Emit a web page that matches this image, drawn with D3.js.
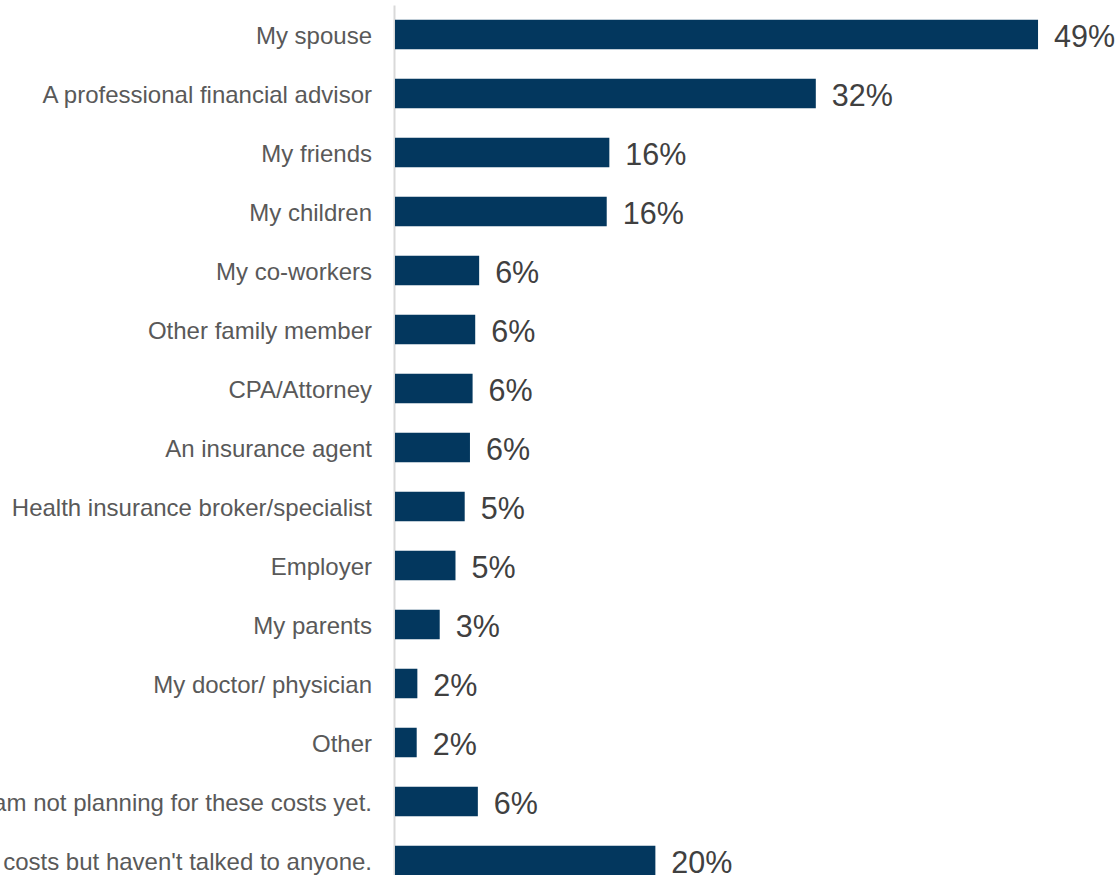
<!DOCTYPE html>
<html>
<head>
<meta charset="utf-8">
<script src="https://cdn.jsdelivr.net/npm/d3@7"></script>
<style>
  html, body { margin: 0; padding: 0; background: #ffffff; overflow: hidden; }
  svg { display: block; font-family: "Liberation Sans", Arial, sans-serif; }
</style>
</head>
<body>
<svg id="chart" width="1120" height="875"></svg>
<script>
// Who people talk to when planning for these costs (share of respondents)
const categories = [
  "My spouse",
  "A professional financial advisor",
  "My friends",
  "My children",
  "My co-workers",
  "Other family member",
  "CPA/Attorney",
  "An insurance agent",
  "Health insurance broker/specialist",
  "Employer",
  "My parents",
  "My doctor/ physician",
  "Other",
  "I am not planning for these costs yet.",
  "I am planning for these costs but haven't talked to anyone."
];
const shares = [0.489, 0.320, 0.163, 0.161, 0.064, 0.061, 0.059, 0.057, 0.053, 0.046, 0.034, 0.017, 0.0165, 0.063, 0.198];

const svg = d3.select("#chart");
const fmt = d3.format(".0%");

const x = d3.scaleLinear().domain([0, 0.5]).range([395, 1052.5]);
const y = d3.scaleBand()
  .domain(categories)
  .range([5, 890])
  .paddingInner(0.5)
  .paddingOuter(0.25);

// category axis: a thin vertical rule, no ticks
const yAxis = d3.axisLeft(y).tickSize(0).tickPadding(22);
const gAxis = svg.append("g")
  .attr("transform", `translate(${x(0) - 1},0)`)
  .call(yAxis);
gAxis.select(".domain").attr("stroke", "#d9d9d9").attr("stroke-width", 2);
gAxis.selectAll(".tick text")
  .attr("font-size", 24)
  .attr("fill", "#595959")
  .attr("dy", "0.38em")
  .attr("font-family", "Liberation Sans, Arial, sans-serif");

const rows = svg.append("g").selectAll("g")
  .data(categories.map((c, i) => ({ c, v: shares[i] })))
  .join("g");

rows.append("rect")
  .attr("x", x(0))
  .attr("y", d => y(d.c))
  .attr("width", d => x(d.v) - x(0))
  .attr("height", y.bandwidth())
  .attr("fill", "#03375e");

rows.append("text")
  .attr("x", d => x(d.v) + 16)
  .attr("y", d => y(d.c) + y.bandwidth() / 2 + 1.5)
  .attr("dy", "0.35em")
  .attr("font-size", 30.5)
  .attr("fill", "#404040")
  .text(d => fmt(d.v));
</script>
</body>
</html>
